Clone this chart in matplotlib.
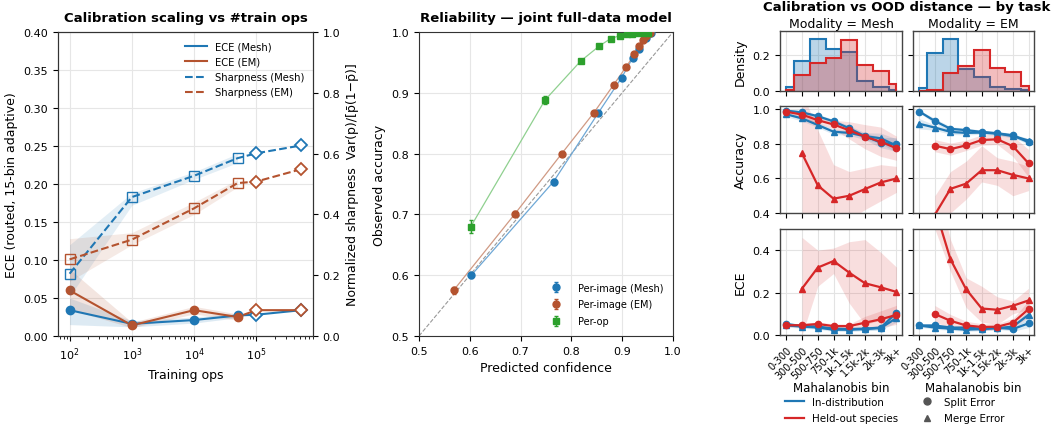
import numpy as np
import matplotlib
matplotlib.use("Agg")
import matplotlib.pyplot as plt
from matplotlib.lines import Line2D

plt.rcParams["font.family"] = ["DejaVu Sans"]
plt.rcParams["axes.edgecolor"] = "#333333"
plt.rcParams["xtick.labelsize"] = 8
plt.rcParams["ytick.labelsize"] = 8

# ---------------- data: calibration scaling ----------------
train_ops = [1e2, 1e3, 1e4, 5e4, 1e5, 5.3e5]
ece_mesh = [0.034, 0.016, 0.021, 0.027, 0.028, 0.034]
ece_em = [0.060, 0.014, 0.034, 0.025, 0.034, 0.034]
sharp_mesh = [0.205, 0.457, 0.527, 0.585, 0.601, 0.627]
sharp_em = [0.252, 0.317, 0.420, 0.503, 0.508, 0.549]
# bands exist for the first four (seeded) runs only
ece_mesh_lo = [0.015, 0.012, 0.017, 0.024]
ece_mesh_hi = [0.050, 0.020, 0.025, 0.030]
ece_em_lo = [0.035, 0.011, 0.029, 0.021]
ece_em_hi = [0.088, 0.018, 0.039, 0.029]
sharp_mesh_lo = [0.13, 0.43, 0.515, 0.570]
sharp_mesh_hi = [0.30, 0.47, 0.540, 0.600]
sharp_em_lo = [0.18, 0.30, 0.400, 0.490]
sharp_em_hi = [0.32, 0.34, 0.440, 0.515]

# ---------------- data: reliability ----------------
mesh_conf = [0.603, 0.765, 0.853, 0.899, 0.921, 0.933, 0.946, 0.956]
mesh_acc = [0.600, 0.754, 0.867, 0.925, 0.958, 0.972, 0.990, 0.998]
mesh_err = [0.005, 0.005, 0.003, 0.003, 0.002, 0.002, 0.001, 0.001]
em_conf = [0.568, 0.689, 0.781, 0.844, 0.883, 0.908, 0.924, 0.933, 0.941, 0.946, 0.955]
em_acc = [0.575, 0.701, 0.800, 0.867, 0.913, 0.943, 0.963, 0.977, 0.987, 0.993, 0.999]
em_err = [0.006, 0.004, 0.003, 0.003, 0.002, 0.002, 0.002, 0.001, 0.001, 0.001, 0.001]
op_conf = [0.602, 0.748, 0.818, 0.855, 0.877, 0.895, 0.909, 0.920, 0.930, 0.940, 0.950]
op_acc = [0.680, 0.888, 0.952, 0.977, 0.989, 0.994, 0.996, 0.997, 0.998, 0.999, 0.999]
op_err = [0.010, 0.006, 0.003, 0.002, 0.002, 0.001, 0.001, 0.001, 0.001, 0.001, 0.001]

# ---------------- data: OOD distance ----------------
nan = np.nan
maha_bins = ["0-300", "300-500", "500-750", "750-1k", "1k-1.5k", "1.5k-2k", "2k-3k", "3k+"]

dens_mesh_id = [0.022, 0.167, 0.289, 0.236, 0.214, 0.054, 0.019, 0.004]
dens_mesh_ho = [0.004, 0.086, 0.156, 0.184, 0.285, 0.143, 0.108, 0.034]
dens_em_id = [0.016, 0.210, 0.289, 0.120, 0.075, 0.019, 0.007, 0.003]
dens_em_ho = [0.000, 0.005, 0.100, 0.140, 0.228, 0.127, 0.105, 0.026]

acc_mesh_id_split = [0.993, 0.983, 0.961, 0.931, 0.891, 0.845, 0.808, 0.797]
acc_mesh_id_merge = [0.972, 0.948, 0.910, 0.871, 0.864, 0.845, 0.833, 0.790]
acc_mesh_ho_split = [0.987, 0.970, 0.938, 0.913, 0.879, 0.842, 0.813, 0.775]
acc_mesh_ho_merge = [nan, 0.745, 0.560, 0.483, 0.500, 0.539, 0.577, 0.600]
acc_em_id_split = [0.988, 0.933, 0.888, 0.880, 0.870, 0.862, 0.850, 0.810]
acc_em_id_merge = [0.917, 0.895, 0.870, 0.864, 0.866, 0.860, 0.846, 0.820]
acc_em_ho_split = [nan, 0.790, 0.770, 0.792, 0.823, 0.827, 0.787, 0.688]
acc_em_ho_merge = [nan, 0.390, 0.540, 0.570, 0.648, 0.648, 0.621, 0.600]

acc_mesh_id_split_hw = [0.010, 0.010, 0.010, 0.012, 0.015, 0.020, 0.030, 0.040]
acc_mesh_id_merge_hw = [0.015, 0.015, 0.015, 0.015, 0.015, 0.020, 0.030, 0.040]
acc_mesh_ho_split_hw = [0.010, 0.015, 0.020, 0.025, 0.050, 0.070, 0.085, 0.070]
acc_em_id_split_hw = [0.008, 0.015, 0.012, 0.012, 0.010, 0.010, 0.012, 0.012]
acc_em_id_merge_hw = [0.030, 0.015, 0.015, 0.012, 0.010, 0.010, 0.012, 0.012]
acc_em_ho_split_hw = [nan, 0.035, 0.035, 0.030, 0.030, 0.030, 0.060, 0.080]
acc_mesh_ho_merge_lo = [nan, 0.30, 0.30, 0.30, 0.36, 0.42, 0.47, 0.52]
acc_mesh_ho_merge_hi = [nan, 1.10, 0.88, 0.68, 0.64, 0.66, 0.68, 0.67]
acc_em_ho_merge_lo = [nan, 0.25, 0.40, 0.48, 0.58, 0.56, 0.50, 0.53]
acc_em_ho_merge_hi = [nan, 0.50, 0.64, 0.70, 0.79, 0.72, 0.70, 0.67]

ece_mesh_id_split = [0.052, 0.042, 0.040, 0.030, 0.028, 0.030, 0.035, 0.105]
ece_mesh_id_merge = [0.045, 0.040, 0.035, 0.025, 0.025, 0.028, 0.033, 0.080]
ece_mesh_ho_split = [0.046, 0.046, 0.052, 0.042, 0.042, 0.058, 0.074, 0.095]
ece_mesh_ho_merge = [nan, 0.219, 0.318, 0.349, 0.294, 0.244, 0.225, 0.203]
ece_em_id_split = [0.045, 0.045, 0.035, 0.035, 0.030, 0.035, 0.028, 0.055]
ece_em_id_merge = [0.045, 0.035, 0.030, 0.025, 0.028, 0.032, 0.040, 0.095]
ece_em_ho_split = [nan, 0.099, 0.067, 0.045, 0.038, 0.039, 0.058, 0.122]
ece_em_ho_merge = [nan, 0.600, 0.357, 0.216, 0.125, 0.119, 0.138, 0.163]

ece_id_hw = [0.008, 0.008, 0.008, 0.008, 0.008, 0.008, 0.010, 0.020]
ece_mesh_ho_split_hw = [0.008, 0.008, 0.010, 0.010, 0.010, 0.030, 0.040, 0.045]
ece_em_ho_split_hw = [nan, 0.040, 0.030, 0.020, 0.015, 0.015, 0.020, 0.040]
ece_mesh_ho_merge_lo = [nan, 0.00, 0.23, 0.29, 0.15, 0.05, 0.07, 0.09]
ece_mesh_ho_merge_hi = [nan, 0.46, 0.40, 0.41, 0.44, 0.45, 0.39, 0.32]
ece_em_ho_merge_lo = [nan, 0.50, 0.30, 0.13, 0.06, 0.05, 0.10, 0.12]
ece_em_ho_merge_hi = [nan, 0.75, 0.45, 0.27, 0.23, 0.18, 0.16, 0.22]

# colours
C_MESH = "#1f77b4"
C_EM = "#b4532f"
C_OP = "#2ca02c"
C_ID = "#1f77b4"
C_HO = "#d62728"

W, H = 1053, 427
fig = plt.figure(figsize=(W / 100, H / 100), dpi=100)


def box(x0, y0, x1, y1):
    # pixel box -> figure fraction
    return [x0 / W, 1 - y1 / H, (x1 - x0) / W, (y1 - y0) / H]


# ================= Panel 1: calibration scaling =================
ax1 = fig.add_axes(box(58, 33, 313, 337))
ax2 = ax1.twinx()
n_band = len(ece_mesh_lo)
ops_band = train_ops[:n_band]

ax1.fill_between(ops_band, ece_mesh_lo, ece_mesh_hi, color=C_MESH, alpha=0.15, lw=0)
ax1.fill_between(ops_band, ece_em_lo, ece_em_hi, color=C_EM, alpha=0.15, lw=0)
ax1.plot(train_ops, ece_mesh, color=C_MESH, lw=1.5)
ax1.plot(train_ops, ece_em, color=C_EM, lw=1.5)
ax1.plot(ops_band, ece_mesh[:n_band], "o", color=C_MESH, ms=6)
ax1.plot(ops_band, ece_em[:n_band], "o", color=C_EM, ms=6)
ax1.plot(train_ops[n_band:], ece_mesh[n_band:], "D", mfc="white", mec=C_MESH, mew=1.3, ms=6, ls="none")
ax1.plot(train_ops[n_band:], ece_em[n_band:], "D", mfc="white", mec=C_EM, mew=1.3, ms=6, ls="none")

ax2.fill_between(ops_band, sharp_mesh_lo, sharp_mesh_hi, color=C_MESH, alpha=0.12, lw=0)
ax2.fill_between(ops_band, sharp_em_lo, sharp_em_hi, color=C_EM, alpha=0.12, lw=0)
ax2.plot(train_ops, sharp_mesh, color=C_MESH, lw=1.5, ls="--")
ax2.plot(train_ops, sharp_em, color=C_EM, lw=1.5, ls="--")
ax2.plot(ops_band, sharp_mesh[:n_band], "s", mfc="none", mec=C_MESH, mew=1.0, ms=6.5, ls="none")
ax2.plot(ops_band, sharp_em[:n_band], "s", mfc="none", mec=C_EM, mew=1.0, ms=6.5, ls="none")
ax2.plot(train_ops[n_band:], sharp_mesh[n_band:], "D", mfc="white", mec=C_MESH, mew=1.3, ms=6, ls="none")
ax2.plot(train_ops[n_band:], sharp_em[n_band:], "D", mfc="white", mec=C_EM, mew=1.3, ms=6, ls="none")

ax1.set_xscale("log")
ax1.set_ylim(0, 0.40)
ax2.set_ylim(0, 1.0)
ax1.set_yticks(np.arange(0, 0.401, 0.05))
ax2.set_yticks(np.arange(0, 1.01, 0.2))
ax1.grid(True, color="#e6e6e6", lw=0.8)
ax1.set_axisbelow(True)
ax1.set_xlabel("Training ops", fontsize=9)
ax1.set_ylabel("ECE (routed, 15-bin adaptive)", fontsize=9)
ax2.set_ylabel("Normalized sharpness  Var(p)/[p\u0304(1\u2212p\u0304)]", fontsize=9)
ax1.set_title("Calibration scaling vs #train ops", fontsize=9.5, fontweight="bold", pad=8)

leg_handles = [
    Line2D([], [], color=C_MESH, lw=1.5, label="ECE (Mesh)"),
    Line2D([], [], color=C_EM, lw=1.5, label="ECE (EM)"),
    Line2D([], [], color=C_MESH, lw=1.5, ls="--", label="Sharpness (Mesh)"),
    Line2D([], [], color=C_EM, lw=1.5, ls="--", label="Sharpness (EM)"),
]
ax2.legend(handles=leg_handles, loc="upper right", fontsize=7.2, frameon=False,
           bbox_to_anchor=(1.0, 1.0), labelspacing=0.55, handlelength=2.2)

# ================= Panel 2: reliability =================
ax = fig.add_axes(box(419, 33, 673, 337))
ax.plot([0.5, 1.0], [0.5, 1.0], ls="--", color="#999999", lw=0.8)
ax.plot(mesh_conf, mesh_acc, color="#6fa8d6", lw=0.9)
ax.plot(em_conf, em_acc, color="#d09a84", lw=0.9)
ax.plot(op_conf, op_acc, color="#8fd08f", lw=0.9)
ax.errorbar(mesh_conf, mesh_acc, yerr=mesh_err, fmt="o", color=C_MESH, ms=5,
            capsize=1.5, elinewidth=1, label="Per-image (Mesh)", zorder=3)
ax.errorbar(em_conf, em_acc, yerr=em_err, fmt="o", color=C_EM, ms=5,
            capsize=1.5, elinewidth=1, label="Per-image (EM)", zorder=3)
ax.errorbar(op_conf, op_acc, yerr=op_err, fmt="s", color=C_OP, ms=5,
            capsize=1.5, elinewidth=1, label="Per-op", zorder=3)
ax.set_xlim(0.5, 1.0)
ax.set_ylim(0.5, 1.0)
ax.set_xticks(np.arange(0.5, 1.01, 0.1))
ax.set_yticks(np.arange(0.5, 1.01, 0.1))
ax.grid(True, color="#e6e6e6", lw=0.8)
ax.set_axisbelow(True)
ax.set_xlabel("Predicted confidence", fontsize=9)
ax.set_ylabel("Observed accuracy", fontsize=9)
ax.set_title("Reliability \u2014 joint full-data model", fontsize=9.5, fontweight="bold", pad=8)
ax.legend(loc="lower right", fontsize=7, frameon=False, handletextpad=1.2,
          labelspacing=0.7, borderaxespad=0.6)

# ================= Panel 3: OOD distance =================
x = np.arange(len(maha_bins))
edges = np.concatenate([[0], x[:-1] + 0.5, [x[-1]]])

col_x = [(780, 902), (913, 1034)]
row_y = [(32, 91.5), (107, 214), (230, 336)]
axes = [[fig.add_axes(box(cx[0], ry[0], cx[1], ry[1])) for cx in col_x] for ry in row_y]

dens = [(dens_mesh_id, dens_mesh_ho), (dens_em_id, dens_em_ho)]
acc = [
    [(acc_mesh_id_split, acc_mesh_id_split_hw, None, C_ID, "o"),
     (acc_mesh_id_merge, acc_mesh_id_merge_hw, None, C_ID, "^"),
     (acc_mesh_ho_split, acc_mesh_ho_split_hw, None, C_HO, "o"),
     (acc_mesh_ho_merge, acc_mesh_ho_merge_lo, acc_mesh_ho_merge_hi, C_HO, "^")],
    [(acc_em_id_split, acc_em_id_split_hw, None, C_ID, "o"),
     (acc_em_id_merge, acc_em_id_merge_hw, None, C_ID, "^"),
     (acc_em_ho_split, acc_em_ho_split_hw, None, C_HO, "o"),
     (acc_em_ho_merge, acc_em_ho_merge_lo, acc_em_ho_merge_hi, C_HO, "^")],
]
ece = [
    [(ece_mesh_id_split, ece_id_hw, None, C_ID, "o"),
     (ece_mesh_id_merge, ece_id_hw, None, C_ID, "^"),
     (ece_mesh_ho_split, ece_mesh_ho_split_hw, None, C_HO, "o"),
     (ece_mesh_ho_merge, ece_mesh_ho_merge_lo, ece_mesh_ho_merge_hi, C_HO, "^")],
    [(ece_em_id_split, ece_id_hw, None, C_ID, "o"),
     (ece_em_id_merge, ece_id_hw, None, C_ID, "^"),
     (ece_em_ho_split, ece_em_ho_split_hw, None, C_HO, "o"),
     (ece_em_ho_merge, ece_em_ho_merge_lo, ece_em_ho_merge_hi, C_HO, "^")],
]


def draw_series(a, series):
    for vals, lo, hi, col, mk in series:
        vals = np.array(vals, dtype=float)
        if hi is None:
            hw = np.array(lo, dtype=float)
            lo_arr, hi_arr = vals - hw, vals + hw
        else:
            lo_arr, hi_arr = np.array(lo, dtype=float), np.array(hi, dtype=float)
        a.fill_between(x, lo_arr, hi_arr, color=col, alpha=0.15, lw=0)
    for vals, lo, hi, col, mk in series:
        a.plot(x, vals, color=col, lw=1.6, marker=mk, ms=4.5)


for j in range(2):
    a = axes[0][j]
    for vals, col in zip(dens[j], (C_ID, C_HO)):
        a.stairs(vals, edges, fill=True, color=col, alpha=0.3, lw=0)
        a.stairs(vals, edges, fill=False, color=col, lw=1.5)
    a.set_ylim(0, 0.335)
    a.set_yticks([0.0, 0.2])
    draw_series(axes[1][j], acc[j])
    axes[1][j].set_ylim(0.4, 1.02)
    axes[1][j].set_yticks([0.4, 0.6, 0.8, 1.0])
    draw_series(axes[2][j], ece[j])
    axes[2][j].set_ylim(0, 0.5)
    axes[2][j].set_yticks([0.0, 0.2, 0.4])
    for i in range(3):
        b = axes[i][j]
        b.set_xlim(-0.4, 7.35)
        b.set_xticks(x)
        b.grid(True, color="#e3e3e3", lw=0.8)
        b.set_axisbelow(True)
        for s in b.spines.values():
            s.set_color("#444444")
            s.set_linewidth(1.0)
        if i < 2:
            b.set_xticklabels([])
        else:
            b.set_xticklabels(maha_bins, rotation=45, ha="right", rotation_mode="anchor", fontsize=7)
            b.set_xlabel("Mahalanobis bin", fontsize=8.5, labelpad=0)
        if j == 1:
            b.set_yticklabels([])

axes[0][0].set_ylabel("Density", fontsize=9)
axes[1][0].set_ylabel("Accuracy", fontsize=9)
axes[2][0].set_ylabel("ECE", fontsize=9)
axes[0][0].set_title("Modality = Mesh", fontsize=9, pad=3)
axes[0][1].set_title("Modality = EM", fontsize=9, pad=3)
fig.text(907 / W, 1 - 8 / H, "Calibration vs OOD distance \u2014 by task",
         ha="center", va="center", fontsize=9.5, fontweight="bold")

ood_handles = [
    Line2D([], [], color=C_ID, lw=1.6, label="In-distribution"),
    Line2D([], [], color=C_HO, lw=1.6, label="Held-out species"),
    Line2D([], [], color="#555555", marker="o", ls="none", ms=5, label="Split Error"),
    Line2D([], [], color="#555555", marker="^", ls="none", ms=5, label="Merge Error"),
]
fig.legend(handles=ood_handles, ncol=2, loc="upper center", bbox_to_anchor=(895 / W, 1 - 398 / H),
           fontsize=7.4, frameon=False, handlelength=1.8, columnspacing=1.9, labelspacing=0.6,
           borderaxespad=0.0, borderpad=0.0)

fig.savefig("out.png", dpi=100)
